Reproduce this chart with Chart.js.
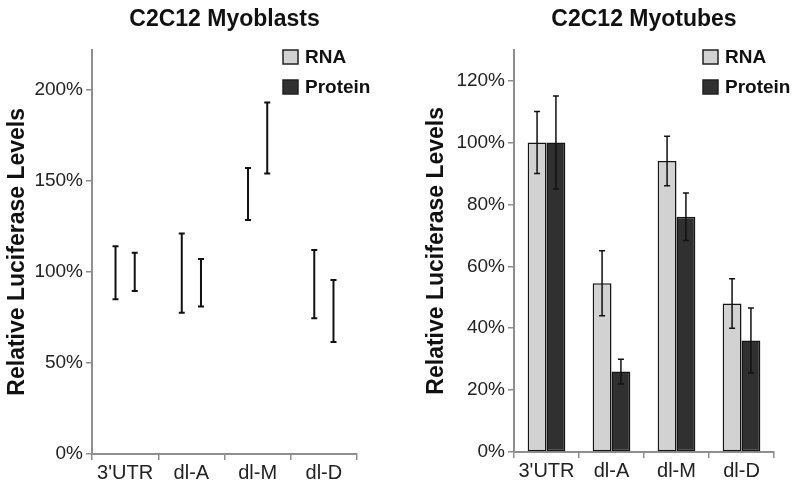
<!DOCTYPE html>
<html>
<head>
<meta charset="utf-8">
<script src="https://cdn.jsdelivr.net/npm/chart.js@4.4.1/dist/chart.umd.min.js"></script>
<style>
    html, body { margin: 0; padding: 0; background: #fff; }
    .wrap { display: flex; width: 800px; height: 489px; }
    .panel { position: relative; width: 400px; height: 489px; }
    canvas { display: block; }
</style>
</head>
<body>
<div class="wrap">
    <div class="panel"><canvas id="myoblastChart" width="400" height="489"></canvas></div>
    <div class="panel"><canvas id="myotubeChart" width="400" height="489"></canvas></div>
</div>
<script>
// Categories shared by both panels
const constructs = ["3'UTR", 'dl-A', 'dl-M', 'dl-D'];

// Myoblasts: only the error ranges are visible (low / high, %)
const blastRnaLow = [85, 77.5, 128.5, 74.5];
const blastRnaHigh = [114, 121, 157, 112];
const blastProteinLow = [89.5, 81, 154, 61.5];
const blastProteinHigh = [110.5, 107, 193, 95.5];

// Myotubes: means and error (%)
const tubeRnaMean = [100, 54.5, 94, 48];
const tubeRnaErr = [10, 10.5, 8, 8];
const tubeProteinMean = [100, 26, 76, 36];
const tubeProteinErr = [15, 4, 7.7, 10.5];

const blastTicks = [0, 50, 100, 150, 200];
const tubeTicks = [0, 20, 40, 60, 80, 100, 120];

const RNA_COLOR = '#d2d2d2';
const PROTEIN_COLOR = '#303030';
const AXIS_COLOR = '#8e8e8e';
const FONT = "'Liberation Sans', Arial, sans-serif";

// Error bars drawn from each dataset's whiskers through the y scale
const errorBarPlugin = {
    id: 'errorBars',
    afterDatasetsDraw(chart, args, opts) {
        const ctx = chart.ctx;
        const yScale = chart.scales.y;
        chart.data.datasets.forEach((ds, i) => {
            const meta = chart.getDatasetMeta(i);
            if (!ds.whiskers) return;
            meta.data.forEach((bar, j) => {
                const [lo, hi] = ds.whiskers[j];
                const yLo = yScale.getPixelForValue(lo);
                const yHi = yScale.getPixelForValue(hi);
                ctx.save();
                ctx.strokeStyle = '#111';
                ctx.lineWidth = opts.lineWidth;
                ctx.beginPath();
                ctx.moveTo(bar.x, yLo);
                ctx.lineTo(bar.x, yHi);
                ctx.moveTo(bar.x - opts.cap, yLo);
                ctx.lineTo(bar.x + opts.cap, yLo);
                ctx.moveTo(bar.x - opts.cap, yHi);
                ctx.lineTo(bar.x + opts.cap, yHi);
                ctx.stroke();
                ctx.restore();
            });
        });
    }
};

// Legend boxes in the top right corner of the plot
const boxLegendPlugin = {
    id: 'boxLegend',
    afterDraw(chart, args, opts) {
        const ctx = chart.ctx;
        const x = chart.chartArea.right - opts.fromRight;
        ctx.save();
        chart.data.datasets.forEach((ds, i) => {
            const cy = opts.top + i * 30;
            ctx.fillStyle = ds.legendColor;
            ctx.fillRect(x, cy - 7, 15, 14);
            ctx.strokeStyle = '#222';
            ctx.lineWidth = 1.5;
            ctx.strokeRect(x, cy - 7, 15, 14);
            ctx.fillStyle = '#111';
            ctx.font = 'bold 19px ' + FONT;
            ctx.textBaseline = 'middle';
            ctx.fillText(ds.label, x + 22, cy + 1);
        });
        ctx.restore();
    }
};

function makeOptions(title, max, tickValues, yWidth, yTitlePad, xHeight, padRight, legendFromRight, whiskerWidth) {
    return {
        responsive: false,
        animation: false,
        layout: { padding: { left: 0, right: padRight, top: 0, bottom: 0 } },
        plugins: {
            legend: { display: false },
            tooltip: { enabled: false },
            title: {
                display: true,
                text: title,
                fullSize: false,
                color: '#111',
                font: { family: FONT, size: 23, weight: 'bold' },
                padding: { top: 6, bottom: 16 }
            },
            boxLegend: { fromRight: legendFromRight, top: 57 },
            errorBars: { lineWidth: whiskerWidth, cap: 3 }
        },
        scales: {
            x: {
                grid: { display: true, drawOnChartArea: false, offset: true, color: AXIS_COLOR, lineWidth: 1.5, tickLength: 6 },
                border: { color: AXIS_COLOR, width: 2 },
                ticks: { color: '#222', font: { family: FONT, size: 20 }, padding: 1, maxRotation: 0, autoSkip: false },
                afterFit(scale) { scale.height = xHeight; }
            },
            y: {
                min: 0,
                max: max,
                afterBuildTicks(scale) { scale.ticks = tickValues.map(v => ({ value: v })); },
                grid: { display: true, drawOnChartArea: false, color: AXIS_COLOR, lineWidth: 1.5, tickLength: 6 },
                border: { color: AXIS_COLOR, width: 2 },
                ticks: { color: '#222', font: { family: FONT, size: 19 }, padding: 3, callback: v => v + '%' },
                title: {
                    display: true,
                    text: 'Relative Luciferase Levels',
                    color: '#111',
                    font: { family: FONT, size: 23, weight: 'bold' },
                    padding: { top: yTitlePad, bottom: 0 }
                },
                afterFit(scale) { scale.width = yWidth; }
            }
        }
    };
}

// Left: Myoblasts (ranges only, bars invisible)
new Chart(document.getElementById('myoblastChart'), {
    type: 'bar',
    data: {
        labels: constructs,
        datasets: [{
            label: 'RNA',
            data: blastRnaLow.map((lo, i) => [lo, blastRnaHigh[i]]),
            whiskers: blastRnaLow.map((lo, i) => [lo, blastRnaHigh[i]]),
            backgroundColor: 'rgba(0,0,0,0)',
            borderWidth: 0,
            legendColor: RNA_COLOR,
            categoryPercentage: 0.58,
            barPercentage: 1
        }, {
            label: 'Protein',
            data: blastProteinLow.map((lo, i) => [lo, blastProteinHigh[i]]),
            whiskers: blastProteinLow.map((lo, i) => [lo, blastProteinHigh[i]]),
            backgroundColor: 'rgba(0,0,0,0)',
            borderWidth: 0,
            legendColor: PROTEIN_COLOR,
            categoryPercentage: 0.58,
            barPercentage: 1
        }]
    },
    options: makeOptions('C2C12 Myoblasts', 222, blastTicks, 92, 4, 35, 43, 74, 2),
    plugins: [errorBarPlugin, boxLegendPlugin]
});

// Right: Myotubes
new Chart(document.getElementById('myotubeChart'), {
    type: 'bar',
    data: {
        labels: constructs,
        datasets: [{
            label: 'RNA',
            data: tubeRnaMean,
            whiskers: tubeRnaMean.map((m, i) => [m - tubeRnaErr[i], m + tubeRnaErr[i]]),
            backgroundColor: RNA_COLOR,
            borderColor: '#151515',
            borderWidth: 1.5,
            borderSkipped: false,
            legendColor: RNA_COLOR,
            categoryPercentage: 0.58,
            barPercentage: 1
        }, {
            label: 'Protein',
            data: tubeProteinMean,
            whiskers: tubeProteinMean.map((m, i) => [m - tubeProteinErr[i], m + tubeProteinErr[i]]),
            backgroundColor: PROTEIN_COLOR,
            borderColor: '#151515',
            borderWidth: 1.5,
            borderSkipped: false,
            legendColor: PROTEIN_COLOR,
            categoryPercentage: 0.58,
            barPercentage: 1
        }]
    },
    options: makeOptions('C2C12 Myotubes', 130, tubeTicks, 114, 23, 37, 26, 71, 1.5),
    plugins: [errorBarPlugin, boxLegendPlugin]
});
</script>
</body>
</html>
